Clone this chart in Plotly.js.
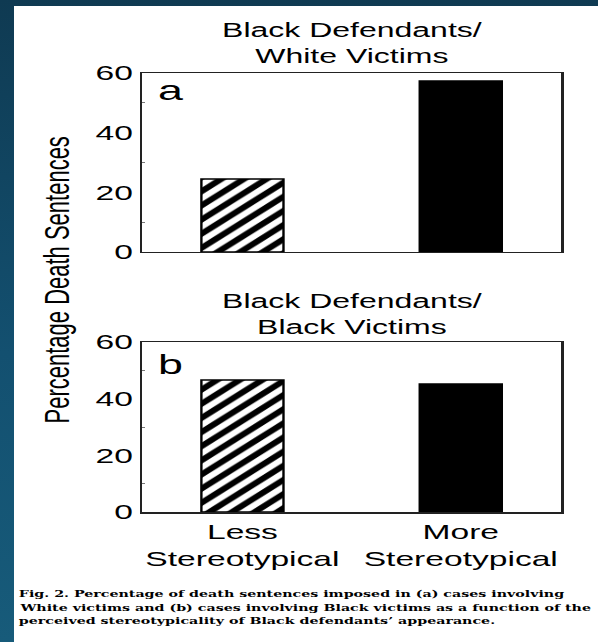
<!DOCTYPE html>
<html>
<head>
<meta charset="utf-8">
<script src="https://cdn.plot.ly/plotly-3.0.1.min.js"></script>
<style>
  html, body { margin: 0; padding: 0; }
  body {
    width: 598px; height: 642px; overflow: hidden; position: relative;
    background: linear-gradient(180deg, #0f3a52 0%, #135070 55%, #175b7a 100%);
  }
  /* the figure is laid out narrow and widened, like the printed plate */
  #plate {
    position: absolute; left: 14px; top: 6px;
    width: 365px; height: 636px;
    transform: scaleX(1.6); transform-origin: 0 0;
  }
</style>
</head>
<body>
<div id="plate"><div id="chart"></div></div>
<script>
// Percentage of death sentences by perceived stereotypicality
const categories = ['Less<br>Stereotypical', 'More<br>Stereotypical'];
const whiteVictims = [24.5, 57.3];   // (a) Black defendants / White victims
const blackVictims = [46.6, 45.2];   // (b) Black defendants / Black victims
const yTicks = [0, 20, 40, 60];
const titleA = 'Black Defendants/<br>White Victims';
const titleB = 'Black Defendants/<br>Black Victims';
const yTitle = 'Percentage Death Sentences';
const captionLines = [
  'Fig. 2. Percentage of death sentences imposed in (a) cases involving',
  'White victims and (b) cases involving Black victims as a function of the',
  'perceived stereotypicality of Black defendants\u2019 appearance.'
];

const SANS = 'Liberation Sans, Arial, Helvetica, sans-serif';
const SERIF = 'DejaVu Serif, Liberation Serif, serif';

// one trace per bar: the "less" bar is hatched, the "more" bar is solid
function barTrace(values, i, xa, ya) {
  const hatched = i === 0;
  return {
    type: 'bar', x: [categories[i]], y: [values[i]], xaxis: xa, yaxis: ya,
    width: 0.376, hoverinfo: 'skip',
    marker: {
      color: hatched ? 'white' : 'black',
      line: { color: 'black', width: 1.5 },
      pattern: hatched
        ? { shape: '/', fillmode: 'overlay', fgcolor: 'black', fgopacity: 1, size: 10, solidity: 0.5 }
        : { shape: '' }
    }
  };
}

const frame = { showline: true, mirror: true, linecolor: '#222', linewidth: 1.5,
                showgrid: false, zeroline: false, fixedrange: true };

function xAxis(anchor, labels) {
  return Object.assign({}, frame, {
    type: 'category', categoryarray: categories, anchor: anchor, domain: [0, 1],
    range: [-0.46, 1.46], ticks: '', showticklabels: labels,
    tickfont: { family: SANS, size: 21, color: 'black' }
  });
}
function yAxis(anchor, domain) {
  return Object.assign({}, frame, {
    anchor: anchor, domain: domain, range: [0, 60], tickvals: yTicks,
    ticks: '', tickfont: { family: SANS, size: 21, color: 'black' },
    minor: { tickvals: [10, 30, 50], ticks: 'inside', ticklen: 2, tickcolor: '#777' }
  });
}

const ann = [
  { text: titleA, x: 0.5, y: 1.068, font: { size: 20 } },
  { text: titleB, x: 0.5, y: 0.451, font: { size: 20 } },
  { text: 'a', x: 0.03, y: 0.961, xanchor: 'left', font: { size: 28 } },
  { text: 'b', x: 0.03, y: 0.335, xanchor: 'left', font: { size: 28 } },
  { text: yTitle, x: -0.205, y: 0.528, textangle: -90, font: { size: 22 } }
].map(a => Object.assign({ xref: 'paper', yref: 'paper', showarrow: false,
  xanchor: 'center', yanchor: 'middle' }, a, {
  font: Object.assign({ family: SANS, color: 'black' }, a.font) }));

const capY = [-0.187, -0.219, -0.249];
captionLines.forEach((t, i) => ann.push({
  text: '<b>' + t + '</b>', xref: 'paper', yref: 'paper', x: -0.302, y: capY[i],
  xanchor: 'left', yanchor: 'middle', showarrow: false, align: 'left',
  font: { family: SERIF, size: 8.9, color: 'black' }
}));

const layout = {
  width: 365, height: 636,
  margin: { l: 80, r: 23, t: 67, b: 130 },
  paper_bgcolor: 'white', plot_bgcolor: 'white',
  showlegend: false, barmode: 'overlay',
  font: { family: SANS, color: 'black' },
  xaxis: xAxis('y', false),
  yaxis: yAxis('x', [0.5923, 1]),
  xaxis2: xAxis('y2', true),
  yaxis2: yAxis('x2', [0, 0.3872]),
  annotations: ann
};

const data = [
  barTrace(whiteVictims, 0, 'x', 'y'), barTrace(whiteVictims, 1, 'x', 'y'),
  barTrace(blackVictims, 0, 'x2', 'y2'), barTrace(blackVictims, 1, 'x2', 'y2')
];

Plotly.newPlot('chart', data, layout, { displayModeBar: false, staticPlot: true });
</script>
</body>
</html>
